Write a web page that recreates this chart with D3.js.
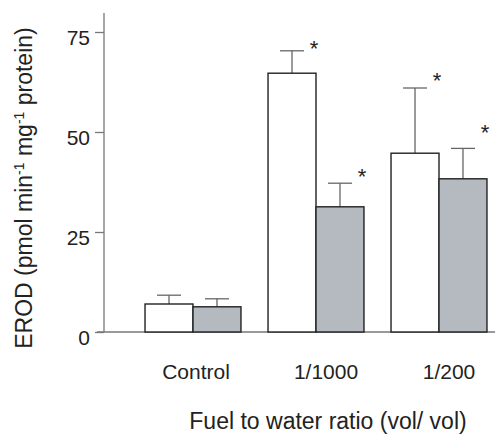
<!DOCTYPE html>
<html>
<head>
<meta charset="utf-8">
<script src="https://cdn.jsdelivr.net/npm/d3@7"></script>
<style>
  body { margin: 0; background: #fff; }
  text { font-family: "Liberation Sans", Arial, sans-serif; fill: #222; }
</style>
</head>
<body>
<svg id="chart" width="495" height="436"></svg>
<script>
// Data
let categories = ["Control", "1/1000", "1/200"]
let series = ["white", "grey"]
let means = [[7, 6.3], [64.7, 31.3], [44.7, 38.3]]
let errors = [[2.2, 2], [5.6, 5.9], [16.3, 7.6]]
let stars = [[null, null], [72, 40], [64, 51]]
let yTicks = [0, 25, 50, 75]

let svg = d3.select("#chart")

let x = d3.scaleBand().domain(categories).range([131.5, 500.5])
  .paddingInner(0.22).paddingOuter(0.11)
let xs = d3.scaleBand().domain(series).range([0, x.bandwidth()])
let y = d3.scaleLinear().domain([0, 80]).range([332, 12])
let fills = {white: "#ffffff", grey: "#b5bac1"}

// rows for every bar
let rows = []
categories.forEach((c, i) => {
  series.forEach((s, j) => {
    rows.push({cat: c, ser: s, v: means[i][j], e: errors[i][j], star: stars[i][j]})
  })
})

// axes
svg.append("line").attr("x1", 97).attr("x2", 495).attr("y1", y(0)).attr("y2", y(0))
  .attr("stroke", "#777").attr("stroke-width", 1.3)
svg.append("line").attr("x1", 104).attr("x2", 104).attr("y1", 13).attr("y2", y(0))
  .attr("stroke", "#777").attr("stroke-width", 1.3)

let yAxis = svg.append("g").attr("transform", "translate(104,0)")
  .call(d3.axisLeft(y).tickValues(yTicks).tickSize(9).tickPadding(5))
yAxis.select(".domain").remove()
yAxis.selectAll(".tick line").attr("stroke", "#777").attr("stroke-width", 1.3)
yAxis.selectAll(".tick text").attr("font-size", 21).attr("dy", "0.6em")
  .attr("font-family", "Liberation Sans, Arial, sans-serif").attr("fill", "#222")

// error bars
let eb = svg.append("g").selectAll("g").data(rows).join("g")
eb.append("line")
  .attr("x1", d => x(d.cat) + xs(d.ser) + xs.bandwidth() / 2)
  .attr("x2", d => x(d.cat) + xs(d.ser) + xs.bandwidth() / 2)
  .attr("y1", d => y(d.v)).attr("y2", d => y(d.v + d.e))
  .attr("stroke", "#666").attr("stroke-width", 1.3)
eb.append("line")
  .attr("x1", d => x(d.cat) + xs(d.ser) + xs.bandwidth() / 4)
  .attr("x2", d => x(d.cat) + xs(d.ser) + xs.bandwidth() * 3 / 4)
  .attr("y1", d => y(d.v + d.e)).attr("y2", d => y(d.v + d.e))
  .attr("stroke", "#666").attr("stroke-width", 1.3)

// bars
svg.append("g").selectAll("rect").data(rows).join("rect")
  .attr("x", d => x(d.cat) + xs(d.ser))
  .attr("width", xs.bandwidth())
  .attr("y", d => y(d.v))
  .attr("height", d => y(0) - y(d.v))
  .attr("fill", d => fills[d.ser])
  .attr("stroke", "#222").attr("stroke-width", 1.4)

// significance stars
svg.append("g").selectAll("text").data(rows.filter(d => d.star != null)).join("text")
  .attr("x", d => x(d.cat) + xs(d.ser) + xs.bandwidth() - 2)
  .attr("y", d => y(d.star) + 12)
  .attr("text-anchor", "middle").attr("font-size", 22)
  .text("*")

// category labels
svg.append("g").selectAll("text").data(categories).join("text")
  .attr("x", (d, i) => x(d) + x.bandwidth() / 2 + (i == 0 ? 3 : 10))
  .attr("y", 379)
  .attr("text-anchor", "middle").attr("font-size", 21)
  .text(d => d)

// axis titles
svg.append("text").attr("x", 328).attr("y", 429).attr("text-anchor", "middle")
  .attr("font-size", 23).text("Fuel to water ratio (vol/ vol)")

let yl = svg.append("text").attr("transform", "translate(32,188) rotate(-90)")
  .attr("text-anchor", "middle").attr("font-size", 23)
yl.append("tspan").text("EROD (pmol min")
yl.append("tspan").attr("dy", -8).attr("font-size", 14).text("-1")
yl.append("tspan").attr("dy", 8).text(" mg")
yl.append("tspan").attr("dy", -8).attr("font-size", 14).text("-1")
yl.append("tspan").attr("dy", 8).text(" protein)")
</script>
</body>
</html>
